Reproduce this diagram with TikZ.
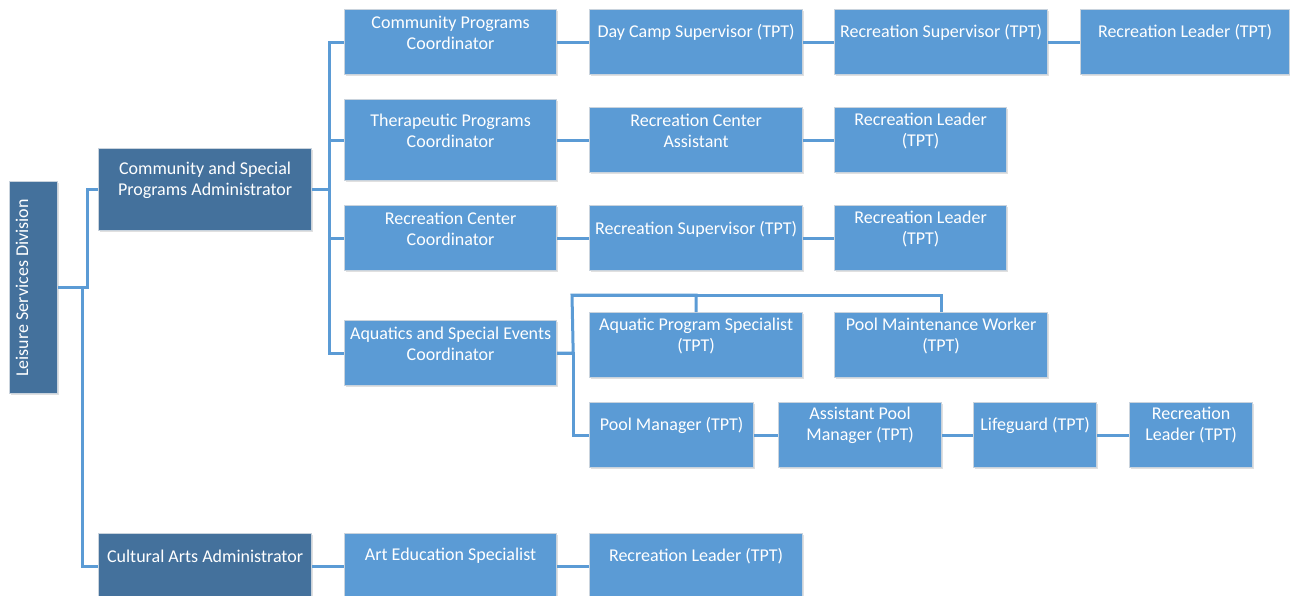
\documentclass[tikz,border=0pt]{standalone}
\usepackage{fontspec}
\setmainfont{Carlito}
\usetikzlibrary{shadows}
\definecolor{dk}{HTML}{44719C}
\definecolor{lt}{HTML}{5B9BD5}
\definecolor{edgec}{HTML}{C9D3DD}
\tikzset{
  box/.style={draw=edgec, line width=1.2pt, anchor=north west, inner sep=0pt, fill=lt,
    drop shadow={shadow xshift=1pt, shadow yshift=-1.5pt, opacity=0.12, fill=black}},
  dkbox/.style={box, fill=dk},
  txt/.style={text=white, font=\fontsize{18}{21}\selectfont, align=center, inner sep=0pt, yshift=-1pt},
  conn/.style={draw=lt, line width=3pt},
}
\newcommand\bx[6]{\node[#6, minimum width=#4pt, minimum height=#5pt] (#1) at (#2,#3) {};}
\begin{document}
\begin{tikzpicture}[x=1pt,y=-1pt]
\useasboundingbox (0,0) rectangle (1290,596);
% boxes
\bx{lsd}{9}{181}{48}{212}{dkbox}
\bx{cspa}{98}{148}{213}{82}{dkbox}
\bx{caa}{98}{533}{213}{66}{dkbox}
\bx{cpc}{344}{9}{212}{65}{box}
\bx{tpc}{344}{99}{212}{81}{box}
\bx{rcc}{344}{205}{212}{65}{box}
\bx{asec}{344}{320}{212}{65}{box}
\bx{aes}{344}{533}{212}{66}{box}
\bx{dcs}{589}{9}{213}{65}{box}
\bx{rca}{589}{107}{213}{65}{box}
\bx{rs}{589}{205}{213}{65}{box}
\bx{aps}{589}{312}{213}{65}{box}
\bx{pm}{589}{402}{164}{65}{box}
\bx{rlb}{589}{533}{213}{66}{box}
\bx{rstop}{834}{9}{213}{65}{box}
\bx{rla}{834}{107}{172}{65}{box}
\bx{rlc}{834}{205}{172}{65}{box}
\bx{pmw}{834}{312}{213}{65}{box}
\bx{apm}{778}{402}{163}{65}{box}
\bx{lg}{973}{402}{123}{65}{box}
\bx{rld}{1129}{402}{123}{65}{box}
\bx{rltop}{1080}{9}{209}{65}{box}
% texts
\node[txt, rotate=90, yshift=1pt] (lsd-t) at (23,287) {Leisure Services Division};
\node[txt] (cspa-t) at (cspa.center |- 0,179) {Community and Special\\Programs Administrator};
\node[txt] (caa-t) at (caa.center |- 0,555) {Cultural Arts Administrator};
\node[txt] (cpc-t) at (cpc.center |- 0,31.5) {Community Programs\\Coordinator};
\node[txt] (tpc-t) at (tpc.center |- 0,130) {Therapeutic Programs\\Coordinator};
\node[txt] (rcc-t) at (rcc.center |- 0,228) {Recreation Center\\Coordinator};
\node[txt] (asec-t) at (asec.center |- 0,342.5) {Aquatics and Special Events\\Coordinator};
\node[txt] (aes-t) at (aes.center |- 0,555) {Art Education Specialist};
\node[txt] (dcs-t) at (dcs.center |- 0,31) {Day Camp Supervisor (TPT)};
\node[txt] (rca-t) at (rca.center |- 0,130) {Recreation Center\\Assistant};
\node[txt] (rs-t) at (rs.center |- 0,228) {Recreation Supervisor (TPT)};
\node[txt] (aps-t) at (aps.center |- 0,335) {Aquatic Program Specialist\\(TPT)};
\node[txt] (pm-t) at (pm.center |- 0,424) {Pool Manager (TPT)};
\node[txt] (rlb-t) at (rlb.center |- 0,555) {Recreation Leader (TPT)};
\node[txt] (rstop-t) at (rstop.center |- 0,31) {Recreation Supervisor (TPT)};
\node[txt] (rla-t) at (rla.center |- 0,130) {Recreation Leader\\(TPT)};
\node[txt] (rlc-t) at (rlc.center |- 0,228) {Recreation Leader\\(TPT)};
\node[txt] (pmw-t) at (pmw.center |- 0,335) {Pool Maintenance Worker\\(TPT)};
\node[txt] (apm-t) at (apm.center |- 0,424) {Assistant Pool\\Manager (TPT)};
\node[txt] (lg-t) at (lg.center |- 0,424) {Lifeguard (TPT)};
\node[txt] (rld-t) at (rld.center |- 0,424) {Recreation\\Leader (TPT)};
\node[txt] (rltop-t) at (rltop.center |- 0,31) {Recreation Leader (TPT)};
% connectors
\draw[conn] (lsd.east) -- ++(29,0) |- (cspa.west);
\draw[conn] (lsd.east) -- ++(24,0) |- (caa.west);
\foreach \c in {cpc,tpc,rcc,asec}{\draw[conn] (cspa.east) -- ++(17,0) |- (\c.west);}
\draw[conn] (cpc.east) -- (dcs.west);
\draw[conn] (dcs.east) -- (rstop.west);
\draw[conn] (rstop.east) -- (rltop.west);
\draw[conn] (tpc.east) -- (rca.west);
\draw[conn] (rca.east) -- (rla.west);
\draw[conn] (rcc.east) -- (rs.west);
\draw[conn] (rs.east) -- (rlc.west);
\coordinate (abus) at (572,295);
\draw[conn] (asec.east) -- ++(16,0) |- (pm.west);
\draw[conn] (asec.east) -- ++(16,0) -- (abus) -| (aps.north);
\draw[conn] (abus) -| (pmw.north);
\draw[conn] (pm.east) -- (apm.west);
\draw[conn] (apm.east) -- (lg.west);
\draw[conn] (lg.east) -- (rld.west);
\draw[conn] (caa.east) -- (aes.west);
\draw[conn] (aes.east) -- (rlb.west);
\end{tikzpicture}
\end{document}
